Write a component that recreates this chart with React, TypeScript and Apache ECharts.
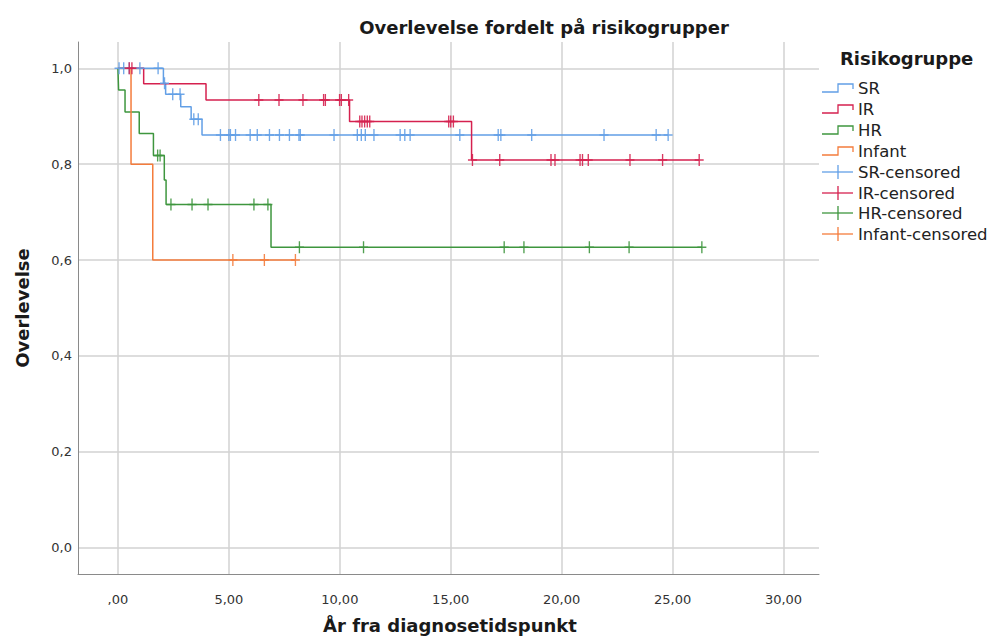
import React, { useEffect, useRef } from "react";
import * as echarts from "echarts";

// Kaplan-Meier step data per risk group: event times (years) and survival after each event
const groupNames = ["SR", "IR", "HR", "Infant"];

const srEventTimes = [2.05, 2.15, 2.83, 3.3, 3.79];
const srSurvival = [0.969, 0.946, 0.92, 0.894, 0.861];
const srCensored = [
  0.05, 0.26, 0.51, 0.99, 1.81, 2.1, 2.47, 2.8, 3.42, 3.62, 4.62, 5.0, 5.07, 5.3, 5.96, 6.28,
  6.83, 7.28, 7.73, 8.16, 8.22, 9.74, 10.79, 10.97, 11.15, 11.54, 12.72, 12.93, 13.17, 15.41,
  17.14, 17.26, 18.65, 21.91, 24.26, 24.8,
];

const irEventTimes = [1.16, 3.97, 10.44, 15.94];
const irSurvival = [0.968, 0.934, 0.889, 0.809];
const irCensored = [
  0.51, 0.63, 6.35, 7.26, 8.34, 9.27, 9.35, 9.99, 10.07, 10.4, 10.9, 11.0, 11.12, 11.24, 11.35,
  14.91, 15.0, 15.12, 15.98, 17.21, 19.52, 19.7, 20.83, 20.94, 21.2, 23.08, 24.55, 26.2,
];

const hrEventTimes = [0.03, 0.32, 0.96, 1.6, 2.09, 2.17, 6.9];
const hrSurvival = [0.955, 0.909, 0.864, 0.818, 0.767, 0.716, 0.627];
const hrCensored = [
  1.79, 1.9, 2.39, 3.34, 4.06, 6.13, 6.76, 8.18, 11.07, 17.41, 18.3, 21.25, 23.04, 26.32,
];

const infantEventTimes = [0.59, 1.57];
const infantSurvival = [0.8, 0.6];
const infantCensored = [5.18, 6.6, 8.0];

// Axis tick labels
const xTickValues = [0, 5, 10, 15, 20, 25, 30];
const xTickLabels = [",00", "5,00", "10,00", "15,00", "20,00", "25,00", "30,00"];
const yTickValues = [0, 0.2, 0.4, 0.6, 0.8, 1.0];
const yTickLabels = ["0,0", "0,2", "0,4", "0,6", "0,8", "1,0"];

const titleText = "Overlevelse fordelt på risikogrupper";
const xTitle = "År fra diagnosetidspunkt";
const yTitle = "Overlevelse";
const legendTitle = "Risikogruppe";

const COLORS = ["#629fe6", "#d5214f", "#3e963e", "#f47c3c"];
const FONT = "'DejaVu Sans', sans-serif";

const groups = [
  { times: srEventTimes, surv: srSurvival, cens: srCensored },
  { times: irEventTimes, surv: irSurvival, cens: irCensored },
  { times: hrEventTimes, surv: hrSurvival, cens: hrCensored },
  { times: infantEventTimes, surv: infantSurvival, cens: infantCensored },
];

function survivalAt(times: number[], surv: number[], t: number): number {
  let s = 1;
  for (let i = 0; i < times.length; i++) {
    if (times[i] <= t) s = surv[i];
  }
  return s;
}

function stepData(times: number[], surv: number[], cens: number[]): number[][] {
  const pts: number[][] = [[0, 1]];
  times.forEach((t, i) => pts.push([t, surv[i]]));
  const end = Math.max(times[times.length - 1], cens.length ? cens[cens.length - 1] : 0);
  pts.push([end, surv[surv.length - 1]]);
  return pts;
}

function tickLabel(values: number[], labels: string[], v: number): string {
  const i = values.findIndex((t) => Math.abs(t - v) < 1e-6);
  return i >= 0 ? labels[i] : "";
}

// plus-shaped censor mark
const PLUS =
  "path://M4.25,0 H5.75 V5.25 H10 V6.75 H5.75 V12 H4.25 V6.75 H0 V5.25 H4.25 Z";

function legendGraphics(): any[] {
  const els: any[] = [];
  const x0 = 822;
  const x1 = 853;
  const xm = 838;
  const textX = 858;
  const rowYs = [88, 109, 130, 151, 172, 193, 213, 234];
  els.push({
    type: "text",
    left: 840,
    top: 49,
    style: { text: legendTitle, font: `bold 18px ${FONT}`, fill: "#1a1a1a" },
  });
  groupNames.forEach((name, i) => {
    const y = rowYs[i];
    els.push({
      type: "polyline",
      shape: {
        points: [
          [x0, y + 4],
          [xm, y + 4],
          [xm, y - 4],
          [x1, y - 4],
          [x1, y + 1],
        ],
      },
      style: { stroke: COLORS[i], lineWidth: 1.3, fill: null },
    });
    els.push({
      type: "text",
      x: textX,
      y,
      style: {
        text: name,
        font: `16.5px ${FONT}`,
        fill: "#222",
        textVerticalAlign: "middle",
      },
    });
  });
  groupNames.forEach((name, i) => {
    const y = rowYs[i + 4];
    els.push({
      type: "line",
      shape: { x1: x0, y1: y, x2: x1, y2: y },
      style: { stroke: COLORS[i], lineWidth: 1.3 },
    });
    els.push({
      type: "line",
      shape: { x1: xm, y1: y - 7, x2: xm, y2: y + 7 },
      style: { stroke: COLORS[i], lineWidth: 1.3 },
    });
    els.push({
      type: "text",
      x: textX,
      y,
      style: {
        text: `${name}-censored`,
        font: `16.5px ${FONT}`,
        fill: "#222",
        textVerticalAlign: "middle",
      },
    });
  });
  return els;
}

export default function App() {
  const ref = useRef<HTMLDivElement>(null);

  useEffect(() => {
    if (!ref.current) return;
    const chart = echarts.init(ref.current, null, { renderer: "svg" });

    const lineSeries = groups.map((g, i) => ({
      type: "line",
      name: groupNames[i],
      step: "end",
      data: stepData(g.times, g.surv, g.cens),
      showSymbol: false,
      symbol: "none",
      lineStyle: { color: COLORS[i], width: 1.5 },
      itemStyle: { color: COLORS[i] },
      z: 3,
      silent: true,
    }));

    const censorSeries = groups.map((g, i) => ({
      type: "scatter",
      name: `${groupNames[i]}-censored`,
      data: g.cens.map((t) => [t, survivalAt(g.times, g.surv, t)]),
      symbol: PLUS,
      symbolSize: [9, 12],
      itemStyle: { color: COLORS[i], opacity: 0.9 },
      z: 4,
      silent: true,
    }));

    chart.setOption({
      animation: false,
      backgroundColor: "#ffffff",
      grid: { left: 78, right: 174, top: 42, bottom: 63, containLabel: false },
      xAxis: {
        type: "value",
        min: -1.8,
        max: 31.6,
        minInterval: 5,
        maxInterval: 5,
        axisLine: { show: true, onZero: false, lineStyle: { color: "#8a8a8a", width: 1 } },
        axisTick: { show: false },
        axisLabel: {
          margin: 19,
          color: "#333",
          fontSize: 13,
          fontFamily: FONT,
          showMinLabel: false,
          showMaxLabel: false,
          formatter: (v: number) => tickLabel(xTickValues, xTickLabels, v),
        },
        splitLine: {
          show: true,
          showMinLine: false,
          showMaxLine: false,
          lineStyle: { color: "#d2d2d2", width: 1.5 },
        },
      },
      yAxis: {
        type: "value",
        min: -0.055,
        max: 1.055,
        minInterval: 0.2,
        maxInterval: 0.2,
        axisLine: { show: true, onZero: false, lineStyle: { color: "#8a8a8a", width: 1 } },
        axisTick: { show: false },
        axisLabel: {
          margin: 6,
          color: "#333",
          fontSize: 13,
          fontFamily: FONT,
          showMinLabel: false,
          showMaxLabel: false,
          formatter: (v: number) => tickLabel(yTickValues, yTickLabels, v),
        },
        splitLine: {
          show: true,
          showMinLine: false,
          showMaxLine: false,
          lineStyle: { color: "#d2d2d2", width: 1.5 },
        },
      },
      series: [...lineSeries, ...censorSeries],
      graphic: [
        {
          type: "text",
          x: 544,
          y: 27,
          style: {
            text: titleText,
            font: `bold 18px ${FONT}`,
            fill: "#1a1a1a",
            textAlign: "center",
            textVerticalAlign: "middle",
          },
        },
        {
          type: "text",
          x: 450,
          y: 625,
          style: {
            text: xTitle,
            font: `bold 18px ${FONT}`,
            fill: "#1a1a1a",
            textAlign: "center",
            textVerticalAlign: "middle",
          },
        },
        {
          type: "text",
          x: 22,
          y: 308,
          rotation: Math.PI / 2,
          style: {
            text: yTitle,
            font: `bold 18px ${FONT}`,
            fill: "#1a1a1a",
            textAlign: "center",
            textVerticalAlign: "middle",
          },
        },
        ...legendGraphics(),
      ],
    });

    return () => chart.dispose();
  }, []);

  return (
    <div
      ref={ref}
      style={{ position: "fixed", left: 0, top: 0, width: 993, height: 637, background: "#fff" }}
    />
  );
}
